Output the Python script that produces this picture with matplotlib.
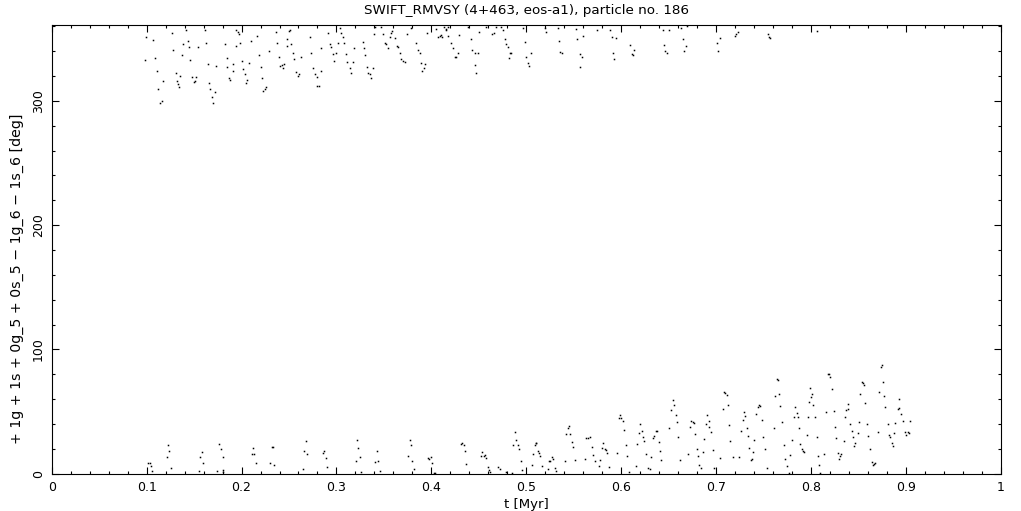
import matplotlib
matplotlib.use('Agg')
import matplotlib.pyplot as plt
from matplotlib.ticker import MultipleLocator

# Resonant angle samples, upper band (near 360 deg)
t_top = [.0993, .107, .0985, .109, .1105, .1175, .112, .1164, .114, .127,
         .128, .1385, .1438, .1445, .1375, .1456, .1305, .135, .1316, .1333,
         .1343, .142, .1543, .148, .152, .151, .150, .1614, .1627, .1648,
         .166, .1666, .172, .169, .170, .173, .1824, .1842, .191, .1848,
         .1905, .187, .1877, .1937, .1947, .1958, .197, .198, .2006, .2017,
         .2035, .2053, .2045, .208, .2098, .2164, .2185, .220, .2217, .2227,
         .2245, .2263, .229, .2368, .2375, .2396, .241, .2427, .2438, .2445,
         .2474, .2508, .2498, .2474, .2519, .2543, .255, .2579, .259, .2606,
         .2624, .2719, .2729, .2754, .2779, .279, .280, .2814, .2832, .2842,
         .2912, .293, .2947, .2964, .2993, .2975, .3017, .3035, .3045, .307,
         .308, .3105, .3116, .3175, .314, .315, .3185, .328, .329, .3305,
         .3326, .3333, .335, .3385, .3361, .3396, .3403, .3466, .349, .3508,
         .3526, .3543, .3572, .3561, .359, .3614, .3638, .3648, .3666, .3684,
         .370, .3719, .3743, .379, .3842, .3859, .3877, .3887, .393, .3919,
         .390, .3954, .4053, .407, .4087, .4098, .4112, .4133, .415, .4175,
         .4158, .4175, .421, .4227, .4245, .4263, .428, .429, .4385, .442,
         .443, .4456, .449, .4463, .4474, .450, .4579, .4642, .4656, .4677,
         .4737, .4754, .4779, .479, .4806, .4824, .4842, .4817, .4964, .4982,
         .500, .5017, .5027, .5045, .5193, .5203, .5343, .5333, .5358, .5379,
         .5526, .5537, .5561, .5585, .5568, .5596, .5743, .5877, .5901, .594,
         .5912, .5922, .6087, .6133, .6112, .6122, .6438, .6498, .6448, .6466,
         .648, .6632, .669, .6648, .6677, .6659, .7006, .7035, .7017, .720,
         .7211, .7227, .7543, .7561, .7572, .8066]
phi_top = [351.5, 348.8, 332.7, 334.1, 323.9, 315.9, 309.4, 300.0, 298.4, 354.7,
           340.8, 345.4, 348.3, 343.4, 336.8, 332.7, 322.8, 319.9, 315.9, 313.4,
           310.8, 357.4, 343.0, 318.8, 318.8, 316.1, 314.8, 356.9, 346.2, 329.3,
           314.5, 309.2, 306.8, 302.7, 297.9, 327.9, 345.4, 334.1, 329.5, 326.9,
           323.9, 318.0, 316.7, 344.0, 356.9, 355.0, 353.7, 346.2, 332.2, 325.3,
           321.5, 316.7, 314.5, 330.1, 348.3, 352.3, 336.8, 327.4, 318.0, 308.1,
           309.2, 310.8, 340.0, 355.5, 346.7, 334.9, 328.2, 328.7, 326.5, 329.5,
           349.4, 356.9, 356.1, 344.0, 345.4, 338.9, 333.3, 323.3, 319.9, 322.0,
           334.9, 351.0, 338.9, 326.1, 322.0, 318.8, 311.8, 312.1, 323.9, 342.2,
           354.2, 345.4, 343.0, 337.3, 338.1, 332.2, 346.7, 359.0, 354.7, 351.0,
           346.7, 337.3, 331.4, 330.9, 326.1, 322.8, 342.2, 347.5, 342.2, 336.8,
           326.9, 322.8, 322.0, 326.1, 318.0, 353.7, 359.5, 359.5, 353.4, 346.2,
           345.6, 342.6, 354.7, 351.0, 356.1, 350.2, 344.2, 343.4, 338.1, 333.3,
           331.9, 331.4, 353.4, 359.0, 346.7, 341.3, 338.1, 330.1, 329.5, 326.1,
           323.9, 354.7, 358.2, 351.5, 352.3, 352.8, 351.0, 359.5, 358.2, 359.5,
           356.9, 352.0, 346.2, 342.6, 334.9, 334.9, 338.9, 352.8, 359.5, 349.4,
           341.3, 338.1, 338.1, 328.7, 322.8, 355.5, 359.5, 353.7, 354.2, 359.5,
           359.8, 357.4, 349.4, 345.6, 343.0, 338.9, 338.9, 334.1, 359.0, 347.5,
           334.9, 330.1, 327.9, 338.1, 359.0, 355.0, 348.0, 359.0, 339.4, 338.1,
           358.2, 349.4, 337.6, 334.9, 326.9, 352.0, 357.4, 357.4, 351.0, 350.2,
           338.1, 333.3, 344.8, 340.8, 337.6, 336.8, 356.9, 357.4, 344.8, 340.2,
           338.9, 359.0, 359.9, 349.4, 344.2, 340.0, 346.2, 350.2, 340.0, 352.0,
           353.4, 355.5, 353.7, 351.5, 350.2, 356.1]

# Resonant angle samples, lower band (near 0 deg)
t_bot = [.1017, .1035, .1045, .1059, .1227, .1238, .121, .1256, .1561, .1585,
         .1596, .155, .1764, .1779, .180, .1743, .180, .1806, .2122, .2112,
         .2133, .215, .2326, .2333, .2305, .2343, .2684, .2659, .269, .2648,
         .2859, .2869, .2887, .2905, .3217, .3227, .3245, .3203, .3256, .3427,
         .3438, .3403, .3456, .3772, .3782, .3754, .3796, .3817, .3964, .3975,
         .3993, .4006, .4027, .4042, .4316, .4326, .4343, .435, .4361, .4533,
         .4526, .4551, .4561, .4572, .4596, .4606, .4621, .4701, .4719, .4789,
         .4853, .488, .4887, .4859, .4912, .4922, .494, .4954, .5098, .5105,
         .5087, .5122, .5133, .514, .507, .5059, .5168, .5245, .5238, .527,
         .528, .5227, .5298, .5316, .541, .5414, .5438, .5448, .5463, .548,
         .549, .5512, .5621, .5632, .5648, .5666, .5695, .570, .5726, .5764,
         .5779, .580, .5806, .5824, .5835, .5848, .5869, .5958, .5982, .5975,
         .600, .6017, .6027, .6045, .6059, .608, .6158, .6164, .6185, .620,
         .6217, .6227, .6238, .6263, .628, .6298, .6312, .6333, .6343, .6368,
         .6379, .6396, .6406, .6417, .6508, .6526, .6543, .6554, .6572, .6585,
         .6596, .6614, .6701, .6726, .6737, .6754, .6764, .6782, .6796, .6806,
         .6824, .6842, .6859, .6869, .6895, .6905, .6919, .6929, .6947, .6964,
         .6982, .7045, .7069, .708, .7095, .7112, .7122, .714, .715, .7175,
         .7245, .7263, .728, .7298, .7305, .7326, .734, .735, .7368, .7379,
         .7393, .7403, .7421, .7438, .7456, .7466, .748, .7498, .7512, .7533,
         .7606, .7621, .7638, .7648, .7666, .7677, .7691, .7712, .7726, .7743,
         .7764, .7782, .7796, .7817, .7832, .7848, .7859, .7869, .7887, .7901,
         .7919, .793, .7954, .7964, .7975, .7993, .8006, .800, .8024, .8038,
         .8059, .807, .808, .8098, .814, .8158, .8175, .8185, .8203, .8217,
         .8238, .8253, .8263, .828, .8291, .8308, .8316, .8343, .8358, .8368,
         .8385, .8393, .8414, .8427, .8445, .8456, .8466, .8491, .8501, .8519,
         .8533, .8543, .8561, .8572, .8589, .8603, .8624, .8638, .8648, .8666,
         .8677, .8701, .8712, .8737, .8747, .8754, .8772, .8782, .8806, .8817,
         .8835, .8849, .8859, .8877, .8887, .8912, .8929, .8922, .8947, .8964,
         .8989, .900, .9017, .9027, .9042]
phi_bot = [8.4, 8.4, 6.4, 2.4, 23.1, 18.5, 13.7, 4.8, 13.2, 17.7,
           8.4, 2.2, 23.9, 19.6, 13.7, 2.2, 1.6, 2.7, 20.4, 15.8,
           15.8, 8.4, 21.2, 21.2, 8.4, 6.8, 26.3, 18.5, 15.6, 3.5,
           16.4, 18.3, 12.4, 5.6, 27.1, 20.4, 13.2, 10.5, 1.1, 18.3,
           10.2, 9.2, 1.9, 27.1, 23.1, 14.2, 10.2, 3.5, 12.4, 11.6,
           13.2, 8.4, 0.8, 0.2, 23.9, 24.9, 23.1, 18.3, 7.8, 17.7,
           14.2, 14.2, 15.0, 12.4, 5.1, 3.0, 1.6, 5.6, 3.8, 1.6,
           0.8, 33.3, 27.1, 23.1, 23.1, 19.6, 10.5, 3.0, 24.9, 24.4,
           23.1, 18.5, 16.4, 14.5, 15.8, 7.0, 6.2, 10.2, 10.2, 13.2,
           11.6, 3.8, 4.3, 2.2, 10.2, 31.9, 36.5, 38.6, 31.9, 25.3,
           21.2, 11.0, 11.8, 28.5, 28.5, 29.3, 21.2, 15.0, 10.2, 6.2,
           11.0, 20.4, 24.4, 19.6, 19.1, 16.4, 5.1, 16.4, 47.0, 44.6,
           44.6, 42.6, 34.9, 23.1, 14.5, 1.1, 6.4, 23.6, 32.5, 40.0,
           34.6, 29.3, 26.3, 15.6, 4.3, 3.5, 13.2, 28.5, 30.3, 34.3,
           34.3, 25.3, 18.3, 11.0, 36.5, 51.2, 59.3, 55.0, 47.0, 41.3,
           29.3, 11.0, 15.6, 37.3, 42.4, 41.3, 40.5, 31.7, 19.6, 14.2,
           7.0, 4.3, 17.2, 27.7, 40.0, 47.2, 42.6, 37.8, 33.5, 19.1,
           4.3, 12.4, 51.8, 65.9, 64.7, 63.3, 55.0, 38.9, 26.3, 13.2,
           13.2, 34.3, 43.2, 49.9, 46.4, 36.5, 30.3, 20.4, 11.0, 11.8,
           17.2, 27.1, 47.8, 53.4, 55.3, 54.5, 43.2, 29.3, 19.6, 4.3,
           36.5, 62.5, 76.2, 75.4, 63.9, 54.5, 41.8, 23.1, 11.8, 6.2,
           0.8, 15.0, 27.1, 45.9, 53.4, 48.6, 45.9, 36.5, 23.6, 19.6,
           18.3, 17.5, 31.1, 45.9, 57.9, 68.7, 64.1, 61.4, 55.3, 45.4,
           29.3, 14.2, 7.0, 0.3, 15.6, 49.4, 80.0, 80.0, 77.5, 67.9,
           50.4, 37.3, 28.5, 16.9, 11.8, 14.2, 15.6, 26.3, 45.4, 51.2,
           55.8, 51.8, 39.7, 34.3, 29.3, 22.3, 24.5, 32.5, 41.3, 63.9,
           74.0, 72.7, 71.3, 56.6, 40.0, 30.3, 19.6, 9.2, 7.0, 7.8,
           8.4, 33.3, 65.9, 85.6, 87.2, 74.0, 62.8, 53.4, 39.7, 31.1,
           29.3, 24.5, 22.5, 32.5, 40.5, 51.8, 52.6, 59.8, 47.8, 42.6,
           33.3, 31.1, 33.3, 32.5, 42.4]

fig = plt.figure(figsize=(10.21, 5.11), dpi=100)
ax = fig.add_axes([0.0506, 0.073, 0.9298, 0.878])

ax.plot(t_top, phi_top, linestyle='none', marker='s', ms=1.1, mew=0, color='black', antialiased=False)
ax.plot(t_bot, phi_bot, linestyle='none', marker='s', ms=1.1, mew=0, color='black', antialiased=False)

ax.set_xlim(0, 1)
ax.set_ylim(0, 361)
ax.xaxis.set_major_locator(MultipleLocator(0.1))
ax.xaxis.set_minor_locator(MultipleLocator(0.02))
ax.yaxis.set_major_locator(MultipleLocator(100))
ax.yaxis.set_minor_locator(MultipleLocator(20))
ax.xaxis.set_major_formatter(plt.FuncFormatter(lambda v, p: f'{v:g}'))
ax.tick_params(which='both', direction='in', top=True, right=True, width=0.8, labelsize=9)
ax.tick_params(which='major', length=5, pad=5)
ax.tick_params(which='minor', length=2.5)
for lab in ax.get_yticklabels():
    lab.set_rotation(90)
    lab.set_va('center')
for s in ax.spines.values():
    s.set_linewidth(0.8)

ax.set_title('SWIFT_RMVSY (4+463, eos-a1), particle no. 186', fontsize=9.7, pad=8)
ax.set_xlabel('t [Myr]', fontsize=9.5, labelpad=3)
fig.text(17 / 1021, 1 - 279 / 511, '+ 1g + 1s + 0g_5 + 0s_5 \u2212 1g_6 \u2212 1s_6 [deg]',
         rotation=90, ha='center', va='center', fontsize=10.2)

fig.savefig('out.png', dpi=100)
